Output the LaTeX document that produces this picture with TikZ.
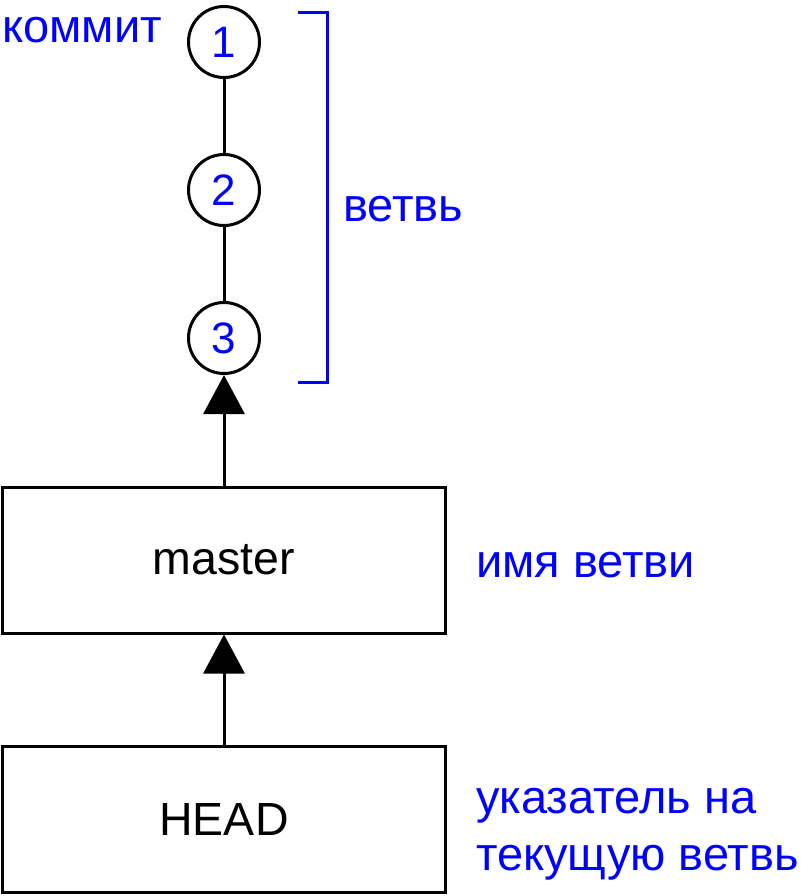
\documentclass[tikz,border=0pt]{standalone}
\usepackage{fontspec}
\setmainfont{Liberation Sans}
\usetikzlibrary{arrows.meta}
\definecolor{lblue}{RGB}{0,0,255}
\begin{document}
\begin{tikzpicture}[x=1pt,y=-1pt,
  commit/.style={circle,draw,line width=3pt,minimum size=71pt,inner sep=0pt,text=lblue,font=\fontsize{44}{52}\selectfont},
  namebox/.style={draw,line width=3pt,minimum width=443pt,minimum height=146pt,inner sep=0pt,font=\fontsize{46.5}{54}\selectfont},
  lbl/.style={text=lblue,inner sep=0pt,font=\fontsize{47}{57}\selectfont},
  link/.style={line width=3pt},
  ptr/.style={line width=3pt,-{Triangle[width=41pt,length=39pt]}}]
\useasboundingbox (0,0) rectangle (800,896);
\node[commit] (c1) at (224,42) {1};
\node[commit] (c2) at (224,190) {2};
\node[commit] (c3) at (224,338) {3};
\node[namebox] (master) at (224,560) {master};
\node[namebox] (head) at (224,819) {HEAD};
\draw[link] (c1) -- (c2);
\draw[link] (c2) -- (c3);
\draw[ptr] (master.north) -- (c3.south);
\draw[ptr] (head.north) -- (master.south);
\coordinate (bt) at (298,13);
\coordinate (bb) at (298,382);
\draw[lblue,line width=3pt] (bt) -| (327,382) -- (bb);
\node[lbl,anchor=base west] (lcommit) at (2,43) {коммит};
\node[lbl,anchor=base west] (lbranch) at (343,221) {ветвь};
\node[lbl,anchor=base west] (lname) at (476,577) {имя ветви};
\node[lbl,anchor=base west,align=left] (lhead) at (476,870) {указатель на\\текущую ветвь};
\end{tikzpicture}
\end{document}
